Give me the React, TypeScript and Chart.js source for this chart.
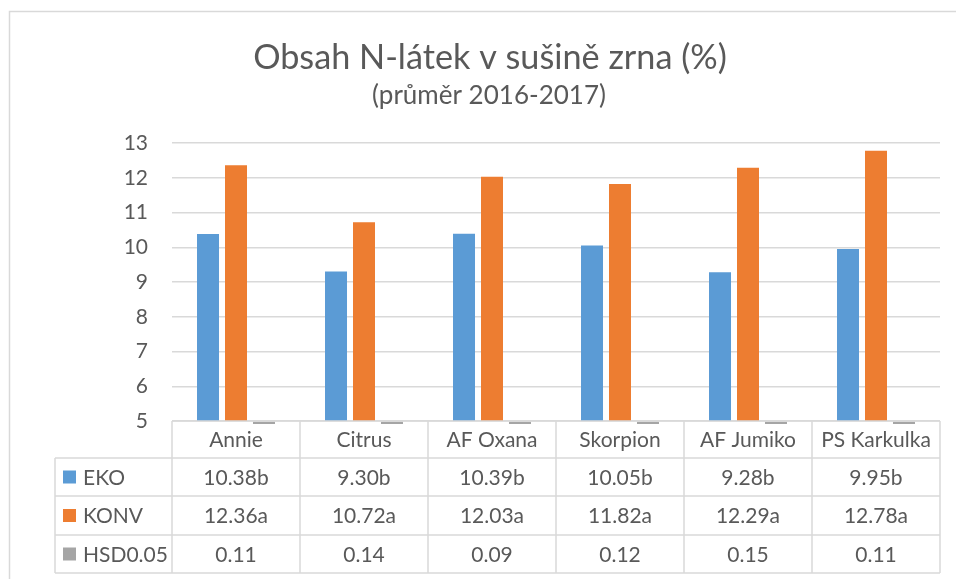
import React, { useEffect, useRef } from "react";
import { Chart, registerables } from "chart.js";

Chart.register(...registerables);

const TITLE = "Obsah N-látek v sušině zrna (%)";
const SUBTITLE = "(průměr 2016-2017)";
const categories = ["Annie", "Citrus", "AF Oxana", "Skorpion", "AF Jumiko", "PS Karkulka"];
const seriesNames = ["EKO", "KONV", "HSD0.05"];
const ekoValues = [10.38, 9.3, 10.39, 10.05, 9.28, 9.95];
const konvValues = [12.36, 10.72, 12.03, 11.82, 12.29, 12.78];
const hsdValues = [0.11, 0.14, 0.09, 0.12, 0.15, 0.11];
const ekoLabels = ["10.38b", "9.30b", "10.39b", "10.05b", "9.28b", "9.95b"];
const konvLabels = ["12.36a", "10.72a", "12.03a", "11.82a", "12.29a", "12.78a"];
const hsdLabels = ["0.11", "0.14", "0.09", "0.12", "0.15", "0.11"];
const yMin = 5;
const yMax = 13;
const yStep = 1;

const COLORS = ["#5B9BD5", "#ED7D31", "#A5A5A5"];
const TEXT = "#595959";
const LINE = "#D9D9D9";
const FONT = "Lato, 'Open Sans', sans-serif";

function fitFont(ctx: CanvasRenderingContext2D, text: string, target: number, base: number) {
  ctx.font = `${base}px ${FONT}`;
  const w = ctx.measureText(text).width;
  return (base * target) / w;
}

const tablePlugin = {
  id: "tablePlugin",
  beforeDraw(chart: any) {
    const { ctx } = chart;
    ctx.save();
    ctx.fillStyle = "#ffffff";
    ctx.fillRect(0, 0, chart.width, chart.height);
    ctx.strokeStyle = LINE;
    ctx.lineWidth = 1.5;
    ctx.strokeRect(9.5, 11.5, chart.width + 20, chart.height + 20);
    ctx.fillStyle = TEXT;
    ctx.textAlign = "center";
    ctx.textBaseline = "middle";
    const ts = fitFont(ctx, TITLE, 474, 34);
    ctx.font = `${ts}px ${FONT}`;
    ctx.fillText(TITLE, 490, 58);
    const ss = fitFont(ctx, SUBTITLE, 234, 22);
    ctx.font = `${ss}px ${FONT}`;
    ctx.fillText(SUBTITLE, 489, 96);
    ctx.restore();
  },
  afterDraw(chart: any) {
    const { ctx, chartArea } = chart;
    const x = chart.scales.x;
    const n = categories.length;
    const cw = (chartArea.right - chartArea.left) / n;
    const top = chartArea.bottom;
    const rows = [top, top + 37, top + 75, top + 114, top + 152];
    const tableLeft = 55;
    const line = (x1: number, y1: number, x2: number, y2: number) => {
      ctx.beginPath();
      ctx.moveTo(x1, y1);
      ctx.lineTo(x2, y2);
      ctx.stroke();
    };
    ctx.save();
    ctx.strokeStyle = LINE;
    ctx.lineWidth = 1.5;
    line(chartArea.left, rows[0], chartArea.right, rows[0]);
    for (let r = 1; r < rows.length; r++) line(tableLeft, rows[r], chartArea.right, rows[r]);
    for (let i = 0; i <= n; i++) {
      const xx = chartArea.left + i * cw;
      line(xx, rows[0], xx, rows[4]);
    }
    line(tableLeft, rows[1], tableLeft, rows[4]);

    ctx.fillStyle = TEXT;
    ctx.font = `21px ${FONT}`;
    ctx.textAlign = "center";
    ctx.textBaseline = "middle";
    const rowLabels = [ekoLabels, konvLabels, hsdLabels];
    for (let i = 0; i < n; i++) {
      const cx = x.getPixelForValue(i);
      ctx.fillText(categories[i], cx, (rows[0] + rows[1]) / 2 + 1);
      for (let r = 0; r < 3; r++) {
        ctx.fillText(rowLabels[r][i], cx, (rows[r + 1] + rows[r + 2]) / 2 + 1);
      }
    }
    ctx.textAlign = "left";
    for (let r = 0; r < 3; r++) {
      const cy = (rows[r + 1] + rows[r + 2]) / 2;
      ctx.fillStyle = COLORS[r];
      ctx.fillRect(63, cy - 6.5, 13, 13);
      ctx.fillStyle = TEXT;
      ctx.fillText(seriesNames[r], 83, cy + 1);
    }
    ctx.restore();
  },
};

export default function App() {
  const ref = useRef<HTMLCanvasElement | null>(null);
  useEffect(() => {
    if (!ref.current) return;
    const chart = new Chart(ref.current, {
      type: "bar",
      data: {
        labels: categories,
        datasets: [
          { label: seriesNames[0], data: ekoValues, backgroundColor: COLORS[0] },
          { label: seriesNames[1], data: konvValues, backgroundColor: COLORS[1] },
          {
            label: seriesNames[2],
            data: hsdValues,
            backgroundColor: COLORS[2],
            base: yMin,
            clip: { left: 0, top: 0, right: 0, bottom: 3 } as any,
          } as any,
        ],
      },
      options: {
        responsive: false,
        animation: false,
        devicePixelRatio: 1,
        layout: { padding: { left: 20, right: 16, top: 143, bottom: 158 } },
        datasets: { bar: { categoryPercentage: 0.656, barPercentage: 0.786 } } as any,
        plugins: {
          legend: { display: false },
          title: { display: false },
          tooltip: { enabled: false },
        },
        scales: {
          x: {
            display: false,
            grid: { display: false },
          },
          y: {
            min: yMin,
            max: yMax,
            ticks: {
              stepSize: yStep,
              color: TEXT,
              padding: 24,
              font: { family: FONT, size: 21 },
            },
            grid: { color: LINE, lineWidth: 1.5, drawTicks: false },
            border: { display: false },
            afterFit: (scale: any) => {
              scale.width = 152;
            },
          },
        },
      },
      plugins: [tablePlugin],
    });
    return () => chart.destroy();
  }, []);
  return (
    <div style={{ position: "absolute", left: 0, top: 0, width: 956, height: 579 }}>
      <canvas ref={ref} width={956} height={579} style={{ width: 956, height: 579 }} />
    </div>
  );
}
